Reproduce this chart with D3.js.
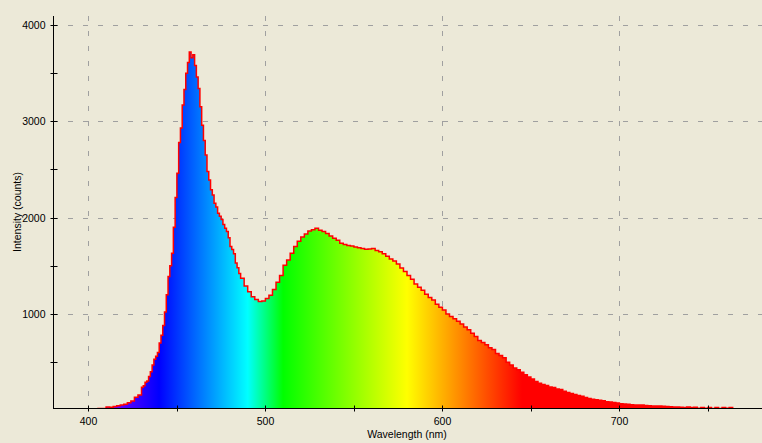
<!DOCTYPE html>
<html>
<head>
<meta charset="utf-8">
<script src="https://cdn.jsdelivr.net/npm/d3@7"></script>
<style>
  html, body { margin: 0; padding: 0; background: #ECE9D8; }
  svg { display: block; }
  text { font-family: "Liberation Sans", Arial, sans-serif; font-size: 10.5px; fill: #000; }
</style>
</head>
<body>
<svg id="chart" width="762" height="443"></svg>
<script>
// ---- data ----
const wavelengths = [
  405,408,410,412,414,416,418,420,422,424,426,428,
  430,431,432,433,434,435,436,437,438,439,440,441,442,443,444,445,446,447,448,449,
  450,451,452,453,454,455,456,457,458,459,460,461,462,463,464,465,466,467,468,469,
  470,471,472,473,474,475,476,477,478,479,480,481,482,483,484,485,486,
  488,490,492,494,496,498,500,502,504,506,508,510,512,514,516,518,520,522,524,526,528,530,532,
  534,536,538,540,542,544,546,548,550,552,554,556,558,560,562,564,566,568,570,572,574,576,
  578,580,582,584,586,588,590,592,594,596,598,600,602,604,606,608,610,612,614,616,618,620,
  622,624,626,628,630,632,634,636,638,640,642,644,646,648,650,652,654,656,658,660,662,664,
  666,668,670,672,674,676,678,680,682,684,686,688,690,692,694,696,698,700,702,704,706,708,
  710,712,714,716,718,720,722,724,726,728,730,732,734,736,738,740,742,744,746,748,750,752,
  754,756,758,760,762,764
];
const counts = [
  20,20,35,32,40,48,55,62,78,96,135,160,
  240,255,290,304,350,400,470,530,560,600,700,780,880,1020,1200,1390,1500,1630,1900,2210,
  2460,2780,2930,3170,3330,3500,3610,3720,3660,3690,3580,3460,3340,3150,2960,2800,2650,2480,2390,2290,
  2235,2150,2110,2045,2015,1980,1930,1890,1855,1790,1700,1670,1625,1530,1480,1420,1370,
  1290,1230,1180,1150,1130,1135,1160,1195,1255,1330,1400,1505,1560,1630,1700,1755,1800,1830,1860,1875,1890,1870,1855,
  1835,1810,1785,1765,1735,1720,1712,1705,1695,1688,1680,1672,1675,1680,1660,1645,1625,1600,1570,1550,1520,1478,
  1440,1400,1360,1310,1278,1245,1205,1170,1145,1100,1070,1040,1000,975,950,925,896,865,835,800,765,725,
  705,680,650,630,590,570,545,500,470,440,420,395,370,345,325,300,282,268,258,242,236,222,
  215,198,186,175,163,155,145,133,122,115,110,104,100,90,85,80,76,68,65,62,58,55,
  55,54,50,48,46,45,44,42,40,37,35,34,33,30,34,28,32,22,30,22,28,20,
  30,20,29,22,28,15
];
const xMajorTicks = [400, 500, 600, 700];
const xMinorTicks = [450, 550, 650, 750];
const yMajorTicks = [1000, 2000, 3000, 4000];
const yMinorTicks = [500, 1500, 2500, 3500];
const xDomain = [380, 780];
const yDomain = [24, 4093];
const spectrumStops = [
  [380, "#ff00ff"], [440, "#0000ff"], [490, "#00ffff"], [510, "#00ff00"],
  [580, "#ffff00"], [645, "#ff0000"], [780, "#ff0000"]
];
const xTitle = "Wavelength (nm)";
const yTitle = "Intensity (counts)";

// ---- layout ----
const L = 53, R = 761, T = 16, B = 408;
const svg = d3.select("#chart");
const x = d3.scaleLinear().domain(xDomain).range([L, R]);
const y = d3.scaleLinear().domain(yDomain).range([B, T]);
const data = wavelengths.map((w, i) => ({ w, v: counts[i] }));

const defs = svg.append("defs");
const grad = defs.append("linearGradient")
  .attr("id", "spec").attr("gradientUnits", "userSpaceOnUse")
  .attr("x1", x(xDomain[0])).attr("x2", x(xDomain[1])).attr("y1", 0).attr("y2", 0);
spectrumStops.forEach(([w, c]) => {
  grad.append("stop")
    .attr("offset", (w - xDomain[0]) / (xDomain[1] - xDomain[0]))
    .attr("stop-color", c);
});
defs.append("clipPath").attr("id", "plotclip")
  .append("rect").attr("x", L).attr("y", T).attr("width", R - L).attr("height", B - T);

// grid
const grid = svg.append("g").attr("stroke", "#A0A0A0").attr("stroke-width", 1)
  .attr("stroke-dasharray", "5,10").attr("shape-rendering", "crispEdges");
grid.selectAll("line.v").data(xMajorTicks).join("line")
  .attr("x1", d => Math.round(x(d)) + 0.5).attr("x2", d => Math.round(x(d)) + 0.5)
  .attr("y1", T).attr("y2", B);
grid.selectAll("line.h").data(yMajorTicks).join("line")
  .attr("y1", d => Math.round(y(d)) + 0.5).attr("y2", d => Math.round(y(d)) + 0.5)
  .attr("x1", L).attr("x2", R + 1);

// spectrum
const plot = svg.append("g").attr("clip-path", "url(#plotclip)");
const area = d3.area().curve(d3.curveStepAfter)
  .x(d => x(d.w)).y0(B + 2).y1(d => y(d.v));
const line = d3.line().curve(d3.curveStepAfter)
  .x(d => x(d.w)).y(d => y(d.v));
plot.append("path").datum(data).attr("d", area).attr("fill", "url(#spec)");
plot.append("path").datum(data).attr("d", line)
  .attr("fill", "none").attr("stroke", "#ff0000").attr("stroke-width", 1.5);

// axes
const allX = xMajorTicks.concat(xMinorTicks).sort((a, b) => a - b);
const allY = yMajorTicks.concat(yMinorTicks).sort((a, b) => a - b);
const xAxis = svg.append("g").attr("transform", `translate(0,${B + 0.5})`)
  .call(d3.axisBottom(x).tickValues(allX).tickSizeOuter(0).tickSizeInner(3).tickPadding(6)
    .tickFormat(d => xMajorTicks.includes(d) ? d : ""));
xAxis.select(".domain").attr("stroke", "#000").attr("d", `M${L},0H${R + 1}`);
xAxis.selectAll(".tick line").attr("y1", -3).attr("y2", 3).attr("stroke", "#000");
xAxis.selectAll(".tick text").attr("font-size", "10.5px").attr("font-family", "Liberation Sans, Arial, sans-serif");

const yAxis = svg.append("g").attr("transform", `translate(${L + 0.5},0)`)
  .call(d3.axisLeft(y).tickValues(allY).tickSizeOuter(0).tickSizeInner(3).tickPadding(5)
    .tickFormat(d => yMajorTicks.includes(d) ? d : ""));
yAxis.select(".domain").attr("stroke", "#000").attr("d", `M0,${T}V${B}`);
yAxis.selectAll(".tick line").attr("x1", -3).attr("x2", 4).attr("stroke", "#000");
yAxis.selectAll(".tick text").attr("font-size", "10.5px").attr("font-family", "Liberation Sans, Arial, sans-serif");
xAxis.selectAll(".tick").attr("transform", d => `translate(${Math.round(x(d)) + 0.5},0)`);
yAxis.selectAll(".tick").attr("transform", d => `translate(0,${Math.round(y(d)) + 0.5})`);

// titles
svg.append("text").attr("x", (L + R) / 2).attr("y", 438).attr("text-anchor", "middle").text(xTitle);
svg.append("text").attr("transform", `translate(21,${(T + B) / 2}) rotate(-90)`)
  .attr("text-anchor", "middle").text(yTitle);
</script>
</body>
</html>
